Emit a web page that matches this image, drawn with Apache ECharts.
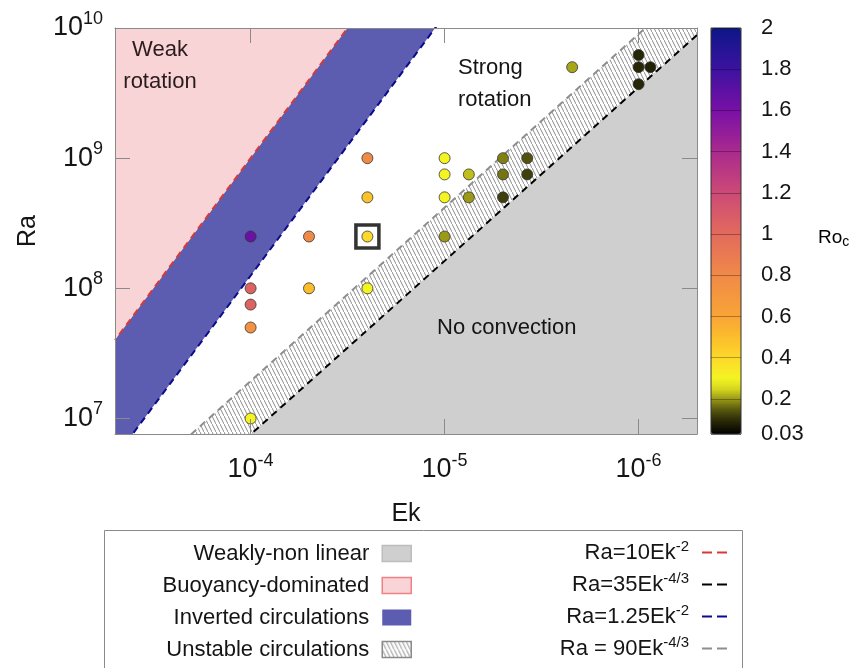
<!DOCTYPE html>
<html>
<head>
<meta charset="utf-8">
<script src="https://cdn.jsdelivr.net/npm/echarts@6/dist/echarts.min.js"></script>
<style>
html, body { margin: 0; padding: 0; background: #fff; }
#chart { width: 862px; height: 668px; }
</style>
</head>
<body>
<div id="chart"></div>
<script>
var FONT = '"Liberation Sans", Arial, sans-serif';
var INK = '#151515';

// simulations: Ekman number, Rayleigh number, convective Rossby number
var ekVals = [1e-4, 1e-4, 1e-4, 1e-4, 1e-4, 5e-5, 5e-5, 2.5e-5, 2.5e-5, 2.5e-5, 2.5e-5,
    1e-5, 1e-5, 1e-5, 1e-5, 7.5e-6, 7.5e-6, 5e-6, 5e-6, 5e-6, 3.75e-6, 3.75e-6,
    2.2e-6, 1e-6, 1e-6, 1e-6, 8.7e-7];
var raVals = [2.5e8, 1e8, 7.5e7, 5e7, 1e7, 2.5e8, 1e8, 1e9, 5e8, 2.5e8, 1e8,
    1e9, 7.5e8, 5e8, 2.5e8, 7.5e8, 5e8, 1e9, 7.5e8, 5e8, 1e9, 7.5e8,
    5e9, 6.2e9, 5e9, 3.7e9, 5e9];
var rocVals = [1.65, 1.05, 1.05, 0.74, 0.3, 0.8, 0.5, 0.79, 0.48, 0.4, 0.3,
    0.3, 0.3, 0.3, 0.2, 0.23, 0.2, 0.18, 0.17, 0.12, 0.14, 0.12,
    0.21, 0.09, 0.09, 0.09, 0.08];

// the run framed by the black square
var boxEk = [2.5e-5];
var boxRa = [2.5e8];

var ekRange = [5e-7, 5e-4];
var raRange = [7.6e6, 1e10];

// regime boundaries Ra = c * Ek^p
var lineNames = ['Ra=10Ek^-2', 'Ra=35Ek^-4/3', 'Ra=1.25Ek^-2', 'Ra = 90Ek^-4/3'];
var lineCoef = [10, 35, 1.25, 90];
var lineExp = [-2, -4 / 3, -2, -4 / 3];
var lineColors = ['#d63a36', '#000000', '#0b0b8f', '#8e8e8e'];

var regionNames = ['Weakly-non linear', 'Buoyancy-dominated', 'Inverted circulations', 'Unstable circulations'];
var regionLine = [1, 0, 2, 3];
var regionOrigin = ['start', 'end', 'end', 'start'];

var rocTicks = [0.03, 0.2, 0.4, 0.6, 0.8, 1, 1.2, 1.4, 1.6, 1.8, 2];
var paletteStops = [0.03, 0.1, 0.15, 0.2, 0.25, 0.3, 0.4, 0.5, 0.6, 0.8, 1.0, 1.2, 1.4, 1.6, 1.8, 2.0];
var paletteColors = ['#000000', '#2e2e08', '#5a5a10', '#9a9a16', '#d8d820', '#f4f422', '#fcd82a',
    '#fbbd2c', '#f9a437', '#f08a48', '#e26a5c', '#cc4a76', '#aa2a8e', '#7810a6', '#3c12a0', '#0c1688'];

function hexRgb(h) {
    return [parseInt(h.slice(1, 3), 16), parseInt(h.slice(3, 5), 16), parseInt(h.slice(5, 7), 16)];
}
function paletteAt(v) {
    for (var i = 1; i < paletteStops.length; i++) {
        if (v <= paletteStops[i]) {
            var t = (v - paletteStops[i - 1]) / (paletteStops[i] - paletteStops[i - 1]);
            var a = hexRgb(paletteColors[i - 1]), b = hexRgb(paletteColors[i]);
            return 'rgb(' + a.map(function (c, k) { return Math.round(c + (b[k] - c) * t); }).join(',') + ')';
        }
    }
    return paletteColors[paletteColors.length - 1];
}
var barColors = [];
for (var k = 0; k <= 80; k++) {
    barColors.push(paletteAt(0.03 + (2 - 0.03) * k / 80));
}

function makePattern(w, h, draw) {
    var c = document.createElement('canvas');
    c.width = w;
    c.height = h;
    draw(c.getContext('2d'));
    return { image: c, repeat: 'repeat' };
}
var bluePattern = makePattern(2, 2, function (g) {
    g.fillStyle = '#7070bc';
    g.fillRect(0, 0, 2, 2);
    g.fillStyle = '#4848a4';
    g.fillRect(0, 0, 1, 1);
    g.fillRect(1, 1, 1, 1);
});
var hatchPattern = makePattern(4, 8, function (g) {
    g.fillStyle = '#ffffff';
    g.fillRect(0, 0, 4, 8);
    g.strokeStyle = '#8c8c8c';
    g.lineWidth = 1;
    g.beginPath();
    g.moveTo(-1, -2);
    g.lineTo(5, 10);
    g.stroke();
});
// area fills and the matching legend swatches
var regionColors = ['#cfcfcf', '#f9d4d6', '#5c5cb0', hatchPattern];
var swatchColors = ['#cfcfcf', '#f9d4d6', bluePattern, hatchPattern];
var regionBorders = ['#bdbdbd', '#ee8086', null, '#8a8a8a'];

function boundary(i) {
    return ekRange.map(function (ek) {
        return [ek, lineCoef[i] * Math.pow(ek, lineExp[i])];
    });
}

function powLabel(v) {
    var e = Math.log10(v), r = Math.round(e);
    if (Math.abs(e - r) > 1e-6) return '';
    return '{b|10}{s|' + r + '}';
}
function supText(name) {
    var p = name.split('^');
    return p.length > 1 ? '{t|' + p[0] + '}{s|' + p[1] + '}' : name;
}

var axisRich = {
    b: { fontSize: 27, lineHeight: 28, fontFamily: FONT, color: INK },
    s: { fontSize: 18, lineHeight: 8, padding: [0, 0, 18, 0], fontFamily: FONT, color: INK }
};
var legendRich = {
    t: { fontSize: 22, lineHeight: 29, fontFamily: FONT, color: INK },
    s: { fontSize: 15, lineHeight: 15, padding: [0, 0, 11, 0], fontFamily: FONT, color: INK }
};

function frameAxis(type, pos, showLabel) {
    var isX = type === 'x';
    return {
        type: 'log',
        logBase: 10,
        gridIndex: 0,
        position: pos,
        inverse: isX,
        min: isX ? ekRange[0] : raRange[0],
        max: isX ? ekRange[1] : raRange[1],
        z: 10,
        name: showLabel ? (isX ? 'Ek' : 'Ra') : '',
        nameLocation: 'middle',
        nameGap: isX ? 68 : 74,
        nameRotate: isX ? 0 : 90,
        nameMoveOverlap: false,
        nameTextStyle: { fontSize: 25, color: INK, fontFamily: FONT },
        axisLine: { show: true, onZero: false, lineStyle: { color: '#8a8a8a', width: 1 } },
        axisTick: { show: true, inside: true, length: 15, lineStyle: { color: '#8a8a8a', width: 1 } },
        minorTick: { show: false },
        splitLine: { show: false },
        axisLabel: {
            show: showLabel,
            margin: isX ? 22 : 12,
            formatter: powLabel,
            rich: axisRich,
            showMinLabel: true,
            showMaxLabel: true
        }
    };
}

var series = [];
[3, 0, 2, 1].forEach(function (r) {
    series.push({
        name: regionNames[r],
        type: 'line',
        data: boundary(regionLine[r]),
        symbol: 'none',
        silent: true,
        clip: true,
        z: 1,
        itemStyle: { color: typeof regionColors[r] === 'string' ? regionColors[r] : '#cccccc' },
        lineStyle: { width: 0 },
        areaStyle: { color: regionColors[r], opacity: 1, origin: regionOrigin[r] }
    });
});
lineNames.forEach(function (n, i) {
    series.push({
        name: n,
        type: 'line',
        data: boundary(i),
        symbol: 'none',
        silent: true,
        clip: true,
        z: 3,
        itemStyle: { color: lineColors[i] },
        lineStyle: { color: lineColors[i], width: 2, type: [7, 5] }
    });
});
series.push({
    name: 'runs',
    type: 'scatter',
    data: ekVals.map(function (e, i) { return [e, raVals[i], rocVals[i]]; }),
    symbolSize: 11,
    z: 5,
    itemStyle: { borderColor: '#333', borderWidth: 0.8, opacity: 1 }
});
series.push({
    name: 'box',
    type: 'scatter',
    data: boxEk.map(function (e, i) { return [e, boxRa[i]]; }),
    symbol: 'rect',
    symbolSize: 23,
    z: 6,
    itemStyle: { color: 'rgba(0,0,0,0)', borderColor: '#000', borderWidth: 3.5 }
});
var runsIndex = series.length - 2;

var dashIcon = 'path://M0,0H10V2H0Z M15,0H25V2H15Z';

var chart = echarts.init(document.getElementById('chart'), null, { renderer: 'canvas' });
chart.setOption({
    animation: false,
    backgroundColor: '#fff',
    textStyle: { fontFamily: FONT },
    grid: [
        { left: 115, right: 165, top: 28, bottom: 234, outerBoundsMode: 'none', containLabel: false },
        { left: 711, width: 30, top: 28, bottom: 234, outerBoundsMode: 'none', containLabel: false,
          show: true, borderColor: '#333', borderWidth: 1, backgroundColor: 'rgba(0,0,0,0)', z: 10 }
    ],
    xAxis: [
        frameAxis('x', 'bottom', true),
        frameAxis('x', 'top', false),
        { type: 'value', gridIndex: 1, show: false, min: 0, max: 1 }
    ],
    yAxis: [
        frameAxis('y', 'left', true),
        frameAxis('y', 'right', false),
        {
            type: 'value', gridIndex: 1, position: 'right', min: 0.03, max: 2, z: 10,
            axisLine: { show: false },
            axisTick: { show: false, customValues: rocTicks },
            splitLine: { show: true, lineStyle: { color: 'rgba(0,0,0,0.3)', width: 1 } },
            axisLabel: {
                customValues: rocTicks, margin: 20, fontSize: 22, color: INK, fontFamily: FONT,
                formatter: function (v) { return String(Math.round(v * 100) / 100); }
            }
        }
    ],
    visualMap: {
        type: 'continuous',
        seriesIndex: runsIndex,
        dimension: 2,
        min: 0.03,
        max: 2,
        left: 711,
        top: 28,
        itemWidth: 30,
        itemHeight: 406,
        padding: 0,
        calculable: false,
        hoverLink: false,
        z: 1,
        inRange: { color: barColors }
    },
    legend: [
        {
            data: regionNames.map(function (n, r) {
                return {
                    name: n, icon: 'rect',
                    itemStyle: { color: swatchColors[r], borderColor: regionBorders[r] || 'rgba(0,0,0,0)',
                                 borderWidth: regionBorders[r] ? 1.5 : 0 }
                };
            }),
            orient: 'vertical', align: 'right', right: 450, top: 539, height: 150,
            itemWidth: 29, itemHeight: 16, itemGap: 3, padding: 0, selectedMode: false,
            textStyle: { fontSize: 22, lineHeight: 29, color: INK, fontFamily: FONT, padding: [0, 8, 0, 0] }
        },
        {
            data: lineNames.map(function (n, i) {
                return { name: n, icon: dashIcon, itemStyle: { color: lineColors[i], borderWidth: 0 } };
            }),
            orient: 'vertical', align: 'right', right: 135, top: 538, height: 150,
            itemWidth: 25, itemHeight: 16, itemGap: 3, padding: 0, selectedMode: false,
            formatter: supText,
            textStyle: { fontSize: 22, lineHeight: 29, color: INK, fontFamily: FONT, padding: [0, 8, 0, 0], rich: legendRich }
        }
    ],
    graphic: [
        { type: 'rect', z: 0, shape: { x: 104.5, y: 530.5, width: 638, height: 200 },
          style: { fill: 'none', stroke: '#8a8a8a', lineWidth: 1 } },
        { type: 'text', z: 20, x: 160, y: 34,
          style: { text: 'Weak\nrotation', font: '22px ' + FONT, lineHeight: 32, align: 'center', fill: '#2a1c1c' } },
        { type: 'text', z: 20, x: 458, y: 52,
          style: { text: 'Strong\nrotation', font: '22px ' + FONT, lineHeight: 32, align: 'left', fill: INK } },
        { type: 'text', z: 20, x: 437, y: 312,
          style: { text: 'No convection', font: '22px ' + FONT, lineHeight: 32, align: 'left', fill: INK } },
        { type: 'text', z: 20, x: 818, y: 238,
          style: { text: '{r|Ro}{c|c}', verticalAlign: 'middle',
                   rich: { r: { fontSize: 19, lineHeight: 20, fontFamily: FONT, color: INK },
                           c: { fontSize: 14, lineHeight: 8, padding: [8, 0, 0, 0], fontFamily: FONT, color: INK } } } }
    ],
    series: series
});
</script>
</body>
</html>
